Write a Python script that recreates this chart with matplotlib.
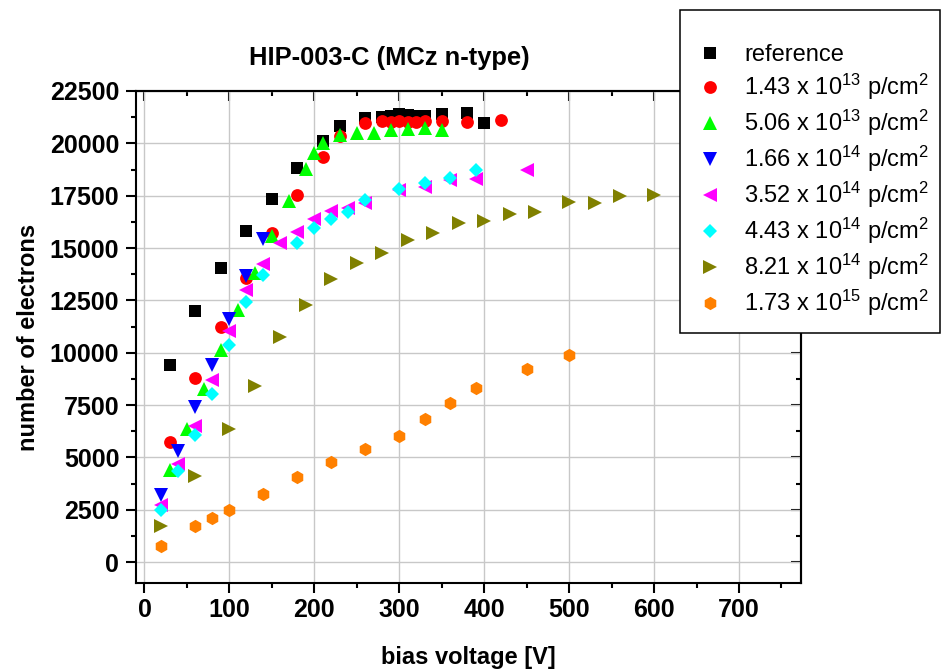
import matplotlib
matplotlib.use("Agg")
import matplotlib.pyplot as plt
from matplotlib.patches import Rectangle
from matplotlib.ticker import MultipleLocator

plt.rcParams['font.family'] = ['Liberation Sans', 'DejaVu Sans']
plt.rcParams['mathtext.fontset'] = 'custom'
plt.rcParams['mathtext.rm'] = 'Liberation Sans'
plt.rcParams['mathtext.it'] = 'Liberation Sans:italic'
plt.rcParams['mathtext.bf'] = 'Liberation Sans:bold'

# ---------------- data ----------------
ref_v = [30, 60, 90, 120, 150, 180, 210, 230, 260, 280, 290, 300, 310, 320, 330, 350, 380, 400]
ref_n = [9400, 12000, 14050, 15820, 17320, 18800, 20120, 20830, 21220, 21250, 21300, 21400, 21350,
         21300, 21300, 21400, 21450, 20980]

f143_v = [30, 60, 90, 120, 150, 180, 210, 230, 260, 280, 290, 300, 310, 320, 330, 350, 380, 420]
f143_n = [5750, 8800, 11250, 13550, 15700, 17550, 19330, 20350, 20950, 21050, 21030, 21050, 21030,
          21030, 21050, 21050, 21030, 21130]

f506_v = [30, 50, 70, 90, 110, 130, 150, 170, 190, 200, 210, 230, 250, 270, 290, 310, 330, 350]
f506_n = [4380, 6350, 8260, 10140, 12050, 13800, 15580, 17260, 18760, 19550, 20000, 20400, 20500,
          20480, 20620, 20670, 20730, 20650]

f166_v = [20, 40, 60, 80, 100, 120, 140]
f166_n = [3220, 5290, 7430, 9390, 11600, 13640, 15420]

f352_v = [20, 40, 60, 80, 100, 120, 140, 160, 180, 200, 220, 240, 260, 300, 330, 360, 390, 450]
f352_n = [2740, 4700, 6510, 8710, 11060, 13000, 14240, 15260, 15780, 16370, 16790, 16900, 17140,
          17770, 17900, 18250, 18280, 18730]

f443_v = [20, 40, 60, 80, 100, 120, 140, 180, 200, 220, 240, 260, 300, 330, 360, 390]
f443_n = [2500, 4330, 6080, 8040, 10380, 12440, 13720, 15260, 15950, 16370, 16740, 17300, 17800,
          18100, 18360, 18730]

f821_v = [20, 60, 100, 130, 160, 190, 220, 250, 280, 310, 340, 370, 400, 430, 460, 500, 530, 560, 600]
f821_n = [1710, 4130, 6370, 8420, 10770, 12290, 13530, 14300, 14750, 15400, 15740, 16180, 16310,
          16610, 16710, 17210, 17140, 17490, 17530]

f173_v = [20, 60, 80, 100, 140, 180, 220, 260, 300, 330, 360, 390, 450, 500]
f173_n = [750, 1700, 2100, 2470, 3250, 4050, 4800, 5400, 6030, 6830, 7600, 8330, 9230, 9900]

labels = [
    "reference",
    r"1.43 x 10$^{13}$ p/cm$^{2}$",
    r"5.06 x 10$^{13}$ p/cm$^{2}$",
    r"1.66 x 10$^{14}$ p/cm$^{2}$",
    r"3.52 x 10$^{14}$ p/cm$^{2}$",
    r"4.43 x 10$^{14}$ p/cm$^{2}$",
    r"8.21 x 10$^{14}$ p/cm$^{2}$",
    r"1.73 x 10$^{15}$ p/cm$^{2}$",
]
series = [(ref_v, ref_n), (f143_v, f143_n), (f506_v, f506_n), (f166_v, f166_n),
          (f352_v, f352_n), (f443_v, f443_n), (f821_v, f821_n), (f173_v, f173_n)]
markers = ['s', 'o', '^', 'v', '<', 'D', '>', 'h']
sizes = [8.3, 9.2, 9.6, 9.6, 9.6, 7.2, 9.6, 9.6]
colors = ['#000000', '#ff0000', '#00ff00', '#0000ff', '#ff00ff', '#00ffff', '#808000', '#ff8000']

# ---------------- figure ----------------
W, H = 942, 669
fig = plt.figure(figsize=(W / 100, H / 100), dpi=100)
ax = fig.add_axes([136 / W, 1 - 583 / H, (801 - 136) / W, (583 - 91) / H])

handles = []
for (v, n), m, ms, c, lab in zip(series, markers, sizes, colors, labels):
    h, = ax.plot(v, n, linestyle='none', marker=m, markersize=ms, color=c,
                 markeredgewidth=0, label=lab, zorder=3)
    handles.append(h)

ax.set_xlim(-10, 773)
ax.set_ylim(-1000, 22500)
ax.xaxis.set_major_locator(MultipleLocator(100))
ax.xaxis.set_minor_locator(MultipleLocator(50))
ax.yaxis.set_major_locator(MultipleLocator(2500))
ax.yaxis.set_minor_locator(MultipleLocator(1250))

ax.grid(True, which='major', color='#c8c8c8', linewidth=1.0, zorder=0)
ax.set_axisbelow(True)

for s in ax.spines.values():
    s.set_linewidth(1.5)

ax.tick_params(axis='x', which='both', bottom=True, top=False, direction='out', width=1.5, pad=4)
ax.tick_params(axis='y', which='both', left=True, right=False, direction='out', width=1.5, pad=5)
ax.tick_params(which='major', length=7, labelsize=18)
ax.tick_params(which='minor', length=3.5)
for lab in ax.get_xticklabels() + ax.get_yticklabels():
    lab.set_fontweight('bold')

# inward ticks on top and right
axt = ax.secondary_xaxis('top')
axt.xaxis.set_major_locator(MultipleLocator(100))
axt.xaxis.set_minor_locator(MultipleLocator(50))
axt.tick_params(which='both', direction='in', width=1.5, labeltop=False)
axt.tick_params(which='major', length=7)
axt.tick_params(which='minor', length=3.5)
axt.spines['top'].set_linewidth(1.5)
axr = ax.secondary_yaxis('right')
axr.yaxis.set_major_locator(MultipleLocator(2500))
axr.yaxis.set_minor_locator(MultipleLocator(1250))
axr.tick_params(which='both', direction='in', width=1.5, labelright=False)
axr.tick_params(which='major', length=7)
axr.tick_params(which='minor', length=3.5)
axr.spines['right'].set_linewidth(1.5)

ax.set_xlabel('bias voltage [V]', fontsize=17, fontweight='bold', labelpad=17)
ax.set_ylabel('number of electrons', fontsize=17, fontweight='bold', labelpad=7)

fig.text(389 / W, 1 - 64.5 / H, 'HIP-003-C (MCz n-type)', ha='center', va='baseline',
         fontsize=18.4, fontweight='bold')

# legend box
rect = Rectangle((680 / W, 1 - 333 / H), (940 - 680) / W, (333 - 10) / H,
                 transform=fig.transFigure, facecolor='white', edgecolor='black',
                 linewidth=1.1, zorder=9)
fig.add_artist(rect)
leg = fig.legend(handles, labels, loc='upper left', bbox_to_anchor=(691.5 / W, 1 - 44 / H),
                 frameon=False, borderpad=0, borderaxespad=0, handlelength=1.53,
                 handletextpad=0.7, labelspacing=0.245, fontsize=17, numpoints=1)
leg.set_zorder(10)

fig.savefig('out.png', dpi=100)
